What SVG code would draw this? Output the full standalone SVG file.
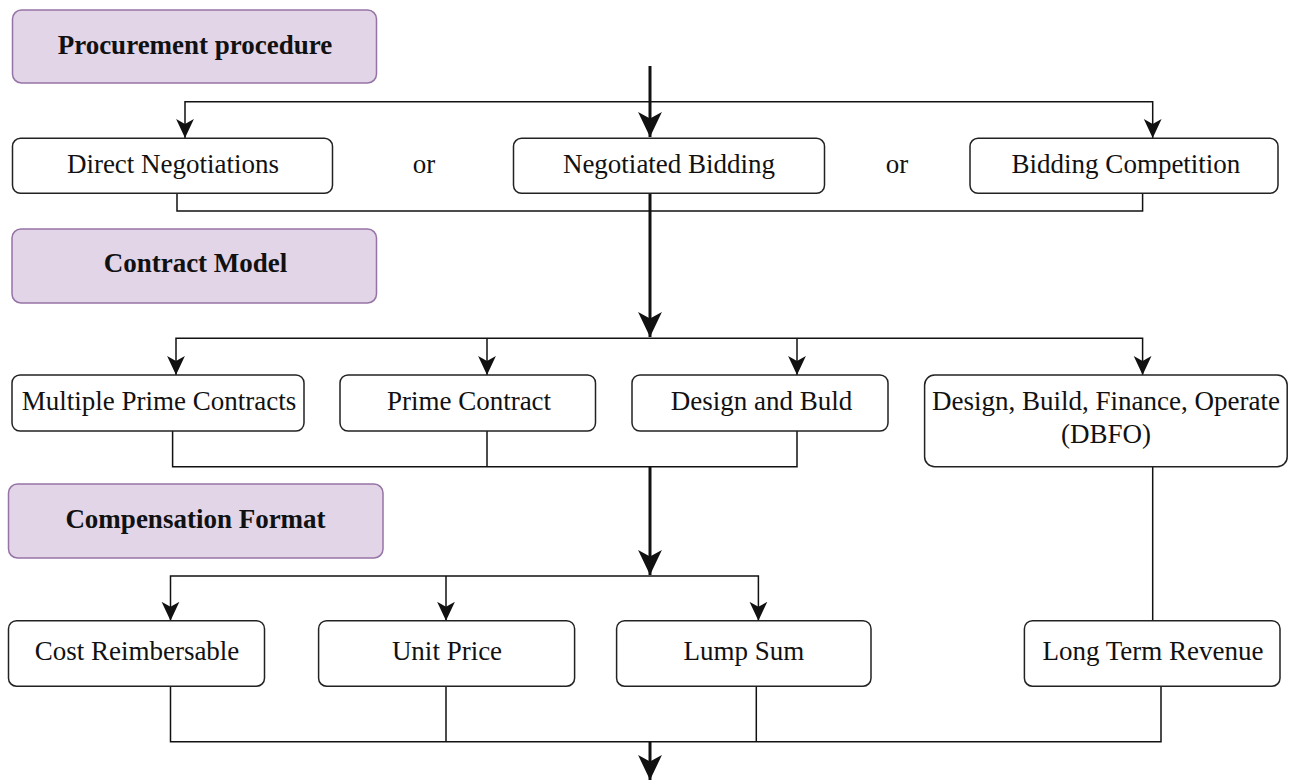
<svg xmlns="http://www.w3.org/2000/svg" width="1290" height="781" viewBox="0 0 1290 781">
  <style>
    .box { fill: #ffffff; stroke: #222222; stroke-width: 1.5; }
    .hdr { fill: #e1d5e7; stroke: #9673a6; stroke-width: 1.5; }
    .t { font-family: "Liberation Serif", "Times New Roman", serif; font-size: 27px; fill: #111111; text-anchor: middle; }
    .b { font-weight: bold; }
    .thin { fill: none; stroke: #111111; stroke-width: 1.5; }
    .thick { fill: none; stroke: #111111; stroke-width: 3; }
  </style>
  <defs>
    <marker id="ah" markerUnits="userSpaceOnUse" markerWidth="20" markerHeight="20" viewBox="0 -9 18 18" refX="17" refY="0" orient="auto">
      <path d="M0,-8 L17,0 L0,8 L4.5,0 Z" fill="#111111"/>
    </marker>
    <marker id="ahb" markerUnits="userSpaceOnUse" markerWidth="26" markerHeight="26" viewBox="0 -12 24 24" refX="23" refY="0" orient="auto">
      <path d="M0,-11 L23,0 L0,11 L6,0 Z" fill="#111111"/>
    </marker>
  </defs>

  <g id="connectors">
    <!-- main spine -->
    <path class="thick" d="M650,66 V137" marker-end="url(#ahb)"/>
    <path class="thick" d="M650,193 V337" marker-end="url(#ahb)"/>
    <path class="thick" d="M650,466.7 V575" marker-end="url(#ahb)"/>
    <path class="thick" d="M650,741.7 V780" marker-end="url(#ahb)"/>
    <!-- procurement distributor -->
    <path class="thin" d="M650,101.7 H185 V138" marker-end="url(#ah)"/>
    <path class="thin" d="M650,101.7 H1152.7 V138" marker-end="url(#ah)"/>
    <!-- procurement collector -->
    <path class="thin" d="M177,193 V211 H1142.6 V193"/>
    <!-- contract distributor -->
    <path class="thin" d="M650,338.3 H176 V375" marker-end="url(#ah)"/>
    <path class="thin" d="M487,338.3 V375" marker-end="url(#ah)"/>
    <path class="thin" d="M650,338.3 H1142.6 V375" marker-end="url(#ah)"/>
    <path class="thin" d="M797,338.3 V375" marker-end="url(#ah)"/>
    <!-- contract collector -->
    <path class="thin" d="M172.6,431 V466.7 H797 V431"/>
    <path class="thin" d="M487,431 V466.7"/>
    <!-- DBFO to Long Term Revenue -->
    <path class="thin" d="M1152.7,466.7 V620.7"/>
    <!-- compensation distributor -->
    <path class="thin" d="M650,576 H170.5 V620.7" marker-end="url(#ah)"/>
    <path class="thin" d="M446,576 V620.7" marker-end="url(#ah)"/>
    <path class="thin" d="M650,576 H758.4 V620.7" marker-end="url(#ah)"/>
    <!-- compensation collector -->
    <path class="thin" d="M170.5,686 V741.7 H1161 V686"/>
    <path class="thin" d="M446,686 V741.7"/>
    <path class="thin" d="M756.3,686 V741.7"/>
  </g>

  <g id="procurement-header">
    <rect class="hdr" x="12.5" y="10" width="364" height="73" rx="9"/>
    <text class="t b" x="195" y="54">Procurement procedure</text>
  </g>
  <g id="direct-negotiations">
    <rect class="box" x="12.5" y="138.3" width="320" height="55" rx="8"/>
    <text class="t" x="173" y="172.5">Direct Negotiations</text>
  </g>
  <g id="or-1">
    <text class="t" x="424" y="172.5">or</text>
  </g>
  <g id="negotiated-bidding">
    <rect class="box" x="513.5" y="138.3" width="311" height="55" rx="8"/>
    <text class="t" x="669" y="172.5">Negotiated Bidding</text>
  </g>
  <g id="or-2">
    <text class="t" x="897" y="172.5">or</text>
  </g>
  <g id="bidding-competition">
    <rect class="box" x="970" y="138.3" width="308" height="55" rx="8"/>
    <text class="t" x="1126" y="172.5">Bidding Competition</text>
  </g>

  <g id="contract-header">
    <rect class="hdr" x="12" y="229" width="364.5" height="74" rx="9"/>
    <text class="t b" x="195.5" y="272">Contract Model</text>
  </g>
  <g id="multiple-prime-contracts">
    <rect class="box" x="12" y="375" width="292" height="56" rx="8"/>
    <text class="t" x="159" y="410">Multiple Prime Contracts</text>
  </g>
  <g id="prime-contract">
    <rect class="box" x="340" y="375" width="255.5" height="56" rx="8"/>
    <text class="t" x="469" y="410">Prime Contract</text>
  </g>
  <g id="design-and-build">
    <rect class="box" x="632" y="375" width="256" height="56" rx="8"/>
    <text class="t" x="761.5" y="410">Design and Buld</text>
  </g>
  <g id="dbfo">
    <rect class="box" x="924.6" y="375" width="362.6" height="91.7" rx="10"/>
    <text class="t" x="1106" y="410">Design, Build, Finance, Operate</text>
    <text class="t" x="1106" y="443">(DBFO)</text>
  </g>

  <g id="compensation-header">
    <rect class="hdr" x="8.5" y="484" width="374.5" height="74" rx="9"/>
    <text class="t b" x="195.5" y="528">Compensation Format</text>
  </g>
  <g id="cost-reimbersable">
    <rect class="box" x="8.5" y="620.7" width="256" height="65.5" rx="8"/>
    <text class="t" x="137" y="660">Cost Reimbersable</text>
  </g>
  <g id="unit-price">
    <rect class="box" x="318.6" y="620.7" width="256" height="65.5" rx="8"/>
    <text class="t" x="447" y="660">Unit Price</text>
  </g>
  <g id="lump-sum">
    <rect class="box" x="616.6" y="620.7" width="254.4" height="65.5" rx="8"/>
    <text class="t" x="744" y="660">Lump Sum</text>
  </g>
  <g id="long-term-revenue">
    <rect class="box" x="1024.4" y="620.7" width="255.6" height="65.5" rx="8"/>
    <text class="t" x="1153" y="660">Long Term Revenue</text>
  </g>
</svg>
